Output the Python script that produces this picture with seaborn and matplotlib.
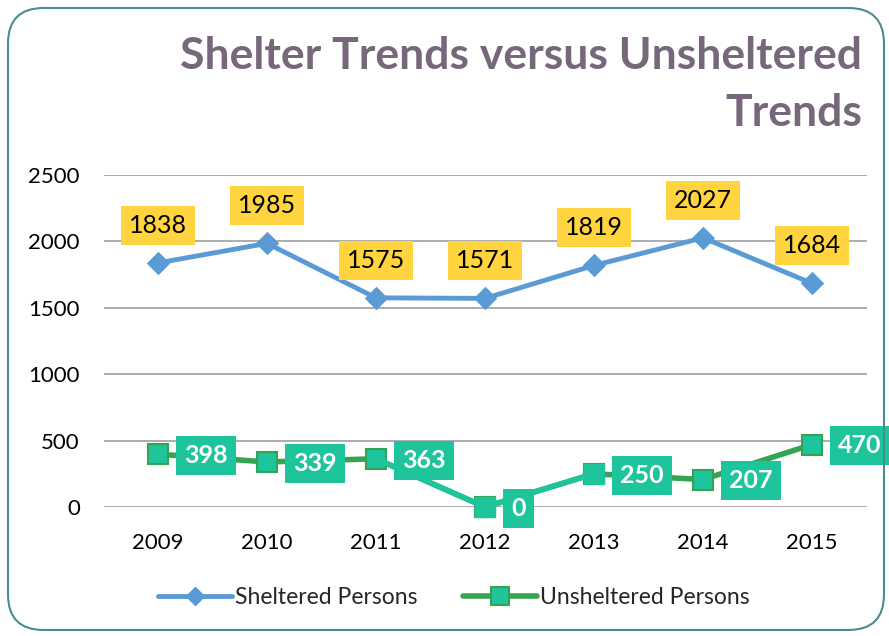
import matplotlib
matplotlib.use("Agg")
import matplotlib.pyplot as plt
import seaborn as sns
import pandas as pd
from matplotlib.patches import FancyBboxPatch
from matplotlib.lines import Line2D

years = ["2009", "2010", "2011", "2012", "2013", "2014", "2015"]
sheltered = [1838, 1985, 1575, 1571, 1819, 2027, 1684]
unsheltered = [398, 339, 363, 0, 250, 207, 470]
y_ticks = [0, 500, 1000, 1500, 2000, 2500]

FONT = ["Lato", "DejaVu Sans"]
sns.set_theme(style="white")
plt.rcParams["font.family"] = FONT

BLUE = "#5B9BD5"
GREEN = "#34A453"
TEAL = "#1DC49C"
YELLOW = "#FFD43F"

fig = plt.figure(figsize=(8.89, 6.36), dpi=100, facecolor="white")
border = FancyBboxPatch((8 / 889, 6 / 636), 876 / 889, 622 / 636,
                        boxstyle="round,pad=0,rounding_size=0.04",
                        transform=fig.transFigure, facecolor="none",
                        edgecolor="#4A8C8F", linewidth=1.5,
                        mutation_aspect=889 / 636, zorder=10)
fig.patches.append(border)

ax = fig.add_axes([103.5 / 889, (636 - 507) / 636, 763 / 889, (507 - 175) / 636])
ax.set_facecolor("none")

df = pd.DataFrame({"x": list(range(len(years))), "s": sheltered, "u": unsheltered})

sns.lineplot(data=df, x="x", y="s", ax=ax, color=BLUE, lw=3.5, marker="D",
             markersize=11, markeredgecolor=BLUE, clip_on=False, zorder=3)
sns.lineplot(data=df, x="x", y="u", ax=ax, color=GREEN, lw=4, marker="s",
             markersize=14, markerfacecolor=TEAL, markeredgecolor=GREEN,
             markeredgewidth=1.5, clip_on=False, zorder=3)
# teal segments around 2012
ax.plot(df["x"][2:5], df["u"][2:5], color=TEAL, lw=4, solid_capstyle="butt",
        clip_on=False, zorder=3.5)
ax.plot(df["x"][3:5], df["u"][3:5], ls="none", marker="s", markersize=14,
        markerfacecolor=TEAL, markeredgecolor=TEAL, clip_on=False, zorder=4)

for i, v in enumerate(sheltered):
    ax.annotate(str(v), (i, v), xytext=(0, 27), textcoords="offset points",
                ha="center", va="center", fontsize=18, color="black",
                bbox=dict(boxstyle="square,pad=0.32", fc=YELLOW, ec="none"),
                zorder=5, annotation_clip=False)
for i, v in enumerate(unsheltered):
    ax.annotate(str(v), (i, v), xytext=(19, -1), textcoords="offset points",
                ha="left", va="center", fontsize=18, fontweight="bold",
                color="white",
                bbox=dict(boxstyle="square,pad=0.32", fc=TEAL, ec="none"),
                zorder=5, annotation_clip=False)

ax.set_xlim(-0.5, len(years) - 0.5)
ax.set_ylim(0, 2500)
ax.set_yticks(y_ticks)
ax.set_yticklabels([str(t) for t in y_ticks])
ax.set_xticks(range(len(years)))
ax.set_xticklabels(years)
ax.tick_params(axis="both", labelsize=16, colors="black", length=0)
ax.tick_params(axis="x", pad=19)
ax.tick_params(axis="y", pad=17)
ax.yaxis.grid(True, color="#A6A6A6", lw=1.3)
ax.xaxis.grid(False)
for s in ax.spines.values():
    s.set_visible(False)
ax.set_xlabel("")
ax.set_ylabel("")

fig.text(862 / 889, 1 - 56 / 636, "Shelter Trends versus Unsheltered", ha="right",
         va="center", fontsize=32, fontweight="bold", color="#76687A")
fig.text(862 / 889, 1 - 113 / 636, "Trends", ha="right", va="center",
         fontsize=32, fontweight="bold", color="#76687A")

handles = [
    Line2D([0], [0], color=BLUE, lw=3.5, marker="D", markersize=9,
           markeredgecolor=BLUE),
    Line2D([0], [0], color=GREEN, lw=4, marker="s", markersize=13,
           markerfacecolor=TEAL, markeredgecolor=GREEN, markeredgewidth=1.5),
]
fig.legend(handles, ["Sheltered Persons", "Unsheltered Persons"],
           loc="center", bbox_to_anchor=(454 / 889, 1 - 598 / 636), ncol=2,
           frameon=False, fontsize=16.5, handlelength=3.2, handletextpad=0.15,
           columnspacing=2.0)

fig.savefig("out.png", dpi=100)
